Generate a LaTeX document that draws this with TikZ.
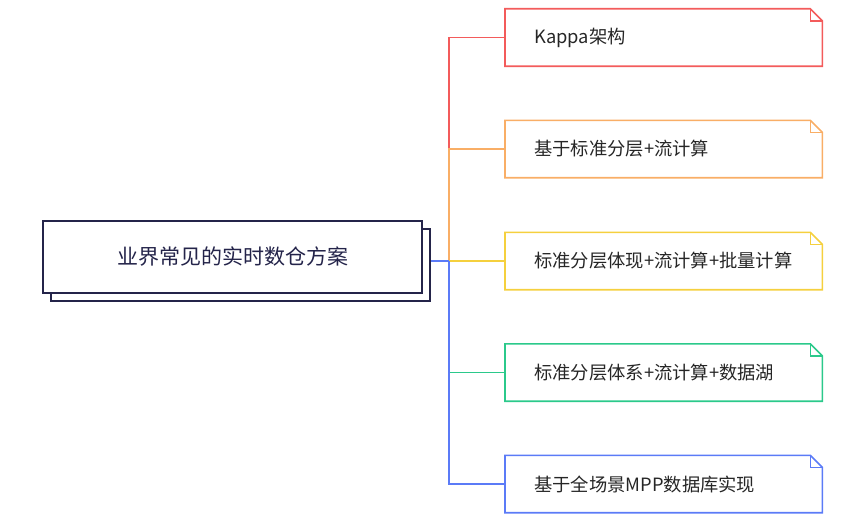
\documentclass[tikz,border=0pt]{standalone}
\usepackage{fontspec}
\newfontfamily\cjk{Noto Sans CJK SC}
\usetikzlibrary{shadows}

\definecolor{rootNavy}{HTML}{24244A}
\definecolor{kappaRed}{HTML}{F35B5B}
\definecolor{layerOrange}{HTML}{F9AE66}
\definecolor{batchYellow}{HTML}{F5D03E}
\definecolor{lakeGreen}{HTML}{2BC98B}
\definecolor{mppBlue}{HTML}{5B7BF7}

\newcommand{\childX}{505}
\newcommand{\junctionX}{449}
\newcommand{\foldSize}{12pt}

% dog-eared outline round a leaf node: #1 node name, #2 colour
\newcommand{\leafOutline}[2]{%
  \draw[leaf line, #2] (#1.north west) -- ([xshift=-\foldSize]#1.north east) -- ([yshift=-\foldSize]#1.north east) -- (#1.south east) -- (#1.south west) -- cycle;
  \draw[leaf line, #2] ([xshift=-\foldSize]#1.north east) |- ([yshift=-\foldSize]#1.north east);
}

\begin{document}
\begin{tikzpicture}[x=1pt, y=-1pt,
    root/.style={draw=rootNavy, line width=2pt, fill=white, minimum width=379pt, minimum height=72pt,
      font=\cjk\fontsize{21}{25}\selectfont, text=rootNavy, copy shadow={shadow xshift=8pt, shadow yshift=-8pt}},
    leaf/.style={anchor=west, minimum height=57pt, text width=259pt, inner xsep=29pt, align=left,
      font=\cjk\fontsize{18.3}{22}\selectfont, text=black!85},
    leaf line/.style={line width=1.6pt, line join=miter},
    branch/.style={line width=1.5pt}]
        \useasboundingbox (0,0) rectangle (853,527);

        % Root
        \node[root] (root) at (232.5,257) {业界常见的实时数仓方案};

        % Leaves
        \node[leaf] (kappa) at (\childX,37.5) {Kappa架构};
        \node[leaf] (layer) at (\childX,149) {基于标准分层+流计算};
        \node[leaf] (batch) at (\childX,261) {标准分层体现+流计算+批量计算};
        \node[leaf] (lake) at (\childX,372.5) {标准分层体系+流计算+数据湖};
        \node[leaf] (mpp) at (\childX,484) {基于全场景MPP数据库实现};

        % Draw branches
        \coordinate (junction) at (\junctionX,261);
        \draw[branch, kappaRed] (junction) |- (kappa.west);
        \draw[branch, layerOrange] (junction) |- (layer.west);
        \draw[branch, batchYellow] (junction) -- (batch.west);
        \draw[branch, lakeGreen] (junction) |- (lake.west);
        \draw[branch, mppBlue] (junction) |- (mpp.west);
        \draw[branch, mppBlue] ([xshift=8pt]root.east |- junction) -- (junction);

        % Draw leaf outlines
        \leafOutline{kappa}{kappaRed}
        \leafOutline{layer}{layerOrange}
        \leafOutline{batch}{batchYellow}
        \leafOutline{lake}{lakeGreen}
        \leafOutline{mpp}{mppBlue}
    \end{tikzpicture}
\end{document}
